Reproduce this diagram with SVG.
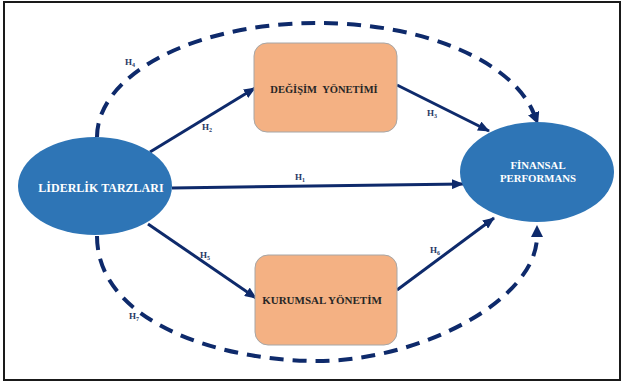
<svg xmlns="http://www.w3.org/2000/svg" width="622" height="382" viewBox="0 0 622 382">
<style>
.frame{fill:#fff;stroke:#1a1a1a;stroke-width:2}
.ell{fill:#2E75B6}
.box{fill:#F4B183;stroke:#a6a6a6;stroke-width:1}
.lbl{font-family:"Liberation Serif",serif;font-weight:bold;text-anchor:middle}
.w{fill:#ffffff}
.d{fill:#262626}
.h{font-family:"Liberation Serif",serif;font-weight:bold;font-size:9px;fill:#1F3864;text-anchor:middle}
.s{font-size:6px}
.ln{fill:none;stroke:#0E2A6B;stroke-width:3}
.ds{fill:none;stroke:#0E2A6B;stroke-width:4;stroke-dasharray:14 9}
</style>
<defs>
<marker id="ah" viewBox="0 0 12 10" refX="11" refY="5" markerWidth="12" markerHeight="10" markerUnits="userSpaceOnUse" orient="auto">
<path d="M0,0 L12,5 L0,10 Z" fill="#0E2A6B"/>
</marker>
<marker id="ahd" viewBox="0 0 12 12" refX="1" refY="6" markerWidth="12" markerHeight="12" markerUnits="userSpaceOnUse" orient="auto">
<path d="M0,0 L12,6 L0,12 Z" fill="#0E2A6B"/>
</marker>
</defs>
<rect class="frame" x="4" y="2" width="616" height="378"/>
<g id="connectors">
<line class="ln" x1="150" y1="152" x2="255" y2="88" marker-end="url(#ah)"/>
<line class="ln" x1="397" y1="85" x2="489" y2="131" marker-end="url(#ah)"/>
<line class="ln" x1="172" y1="188" x2="463" y2="184" marker-end="url(#ah)"/>
<line class="ln" x1="148" y1="224" x2="256" y2="298" marker-end="url(#ah)"/>
<line class="ln" x1="397" y1="290" x2="494" y2="218" marker-end="url(#ah)"/>
<path class="ds" d="M97,137 A220,114 0 0 1 317,23 A220,114 0 0 1 534,114" marker-end="url(#ahd)"/>
<path class="ds" d="M97,236 C97,322 220,361 317,361 C420,361 537,300 537,236" marker-end="url(#ahd)"/>
<text class="h" x="207" y="130">H<tspan class="s" dy="2">2</tspan></text>
<text class="h" x="432" y="116">H<tspan class="s" dy="2">3</tspan></text>
<text class="h" x="300" y="180">H<tspan class="s" dy="2">1</tspan></text>
<text class="h" x="130" y="65">H<tspan class="s" dy="2">4</tspan></text>
<text class="h" x="205" y="258">H<tspan class="s" dy="2">5</tspan></text>
<text class="h" x="435" y="253">H<tspan class="s" dy="2">6</tspan></text>
<text class="h" x="134" y="319">H<tspan class="s" dy="2">7</tspan></text>
</g>
<g id="liderlik">
<ellipse class="ell" cx="95" cy="186" rx="77" ry="49"/>
<text class="lbl w" x="101" y="192" font-size="12">LİDERLİK TARZLARI</text>
</g>
<g id="finansal">
<ellipse class="ell" cx="537" cy="172" rx="77" ry="50"/>
<text class="lbl w" x="538" y="169" font-size="10.8">FİNANSAL</text>
<text class="lbl w" x="538" y="182" font-size="10.8">PERFORMANS</text>
</g>
<g id="degisim">
<rect class="box" x="254" y="43" width="143" height="89" rx="13"/>
<text class="lbl d" x="324" y="93" font-size="10.5" word-spacing="3">DEĞİŞİM YÖNETİMİ</text>
</g>
<g id="kurumsal">
<rect class="box" x="255" y="255" width="142" height="90" rx="13"/>
<text class="lbl d" x="322" y="304" font-size="11">KURUMSAL YÖNETİM</text>
</g>
</svg>
